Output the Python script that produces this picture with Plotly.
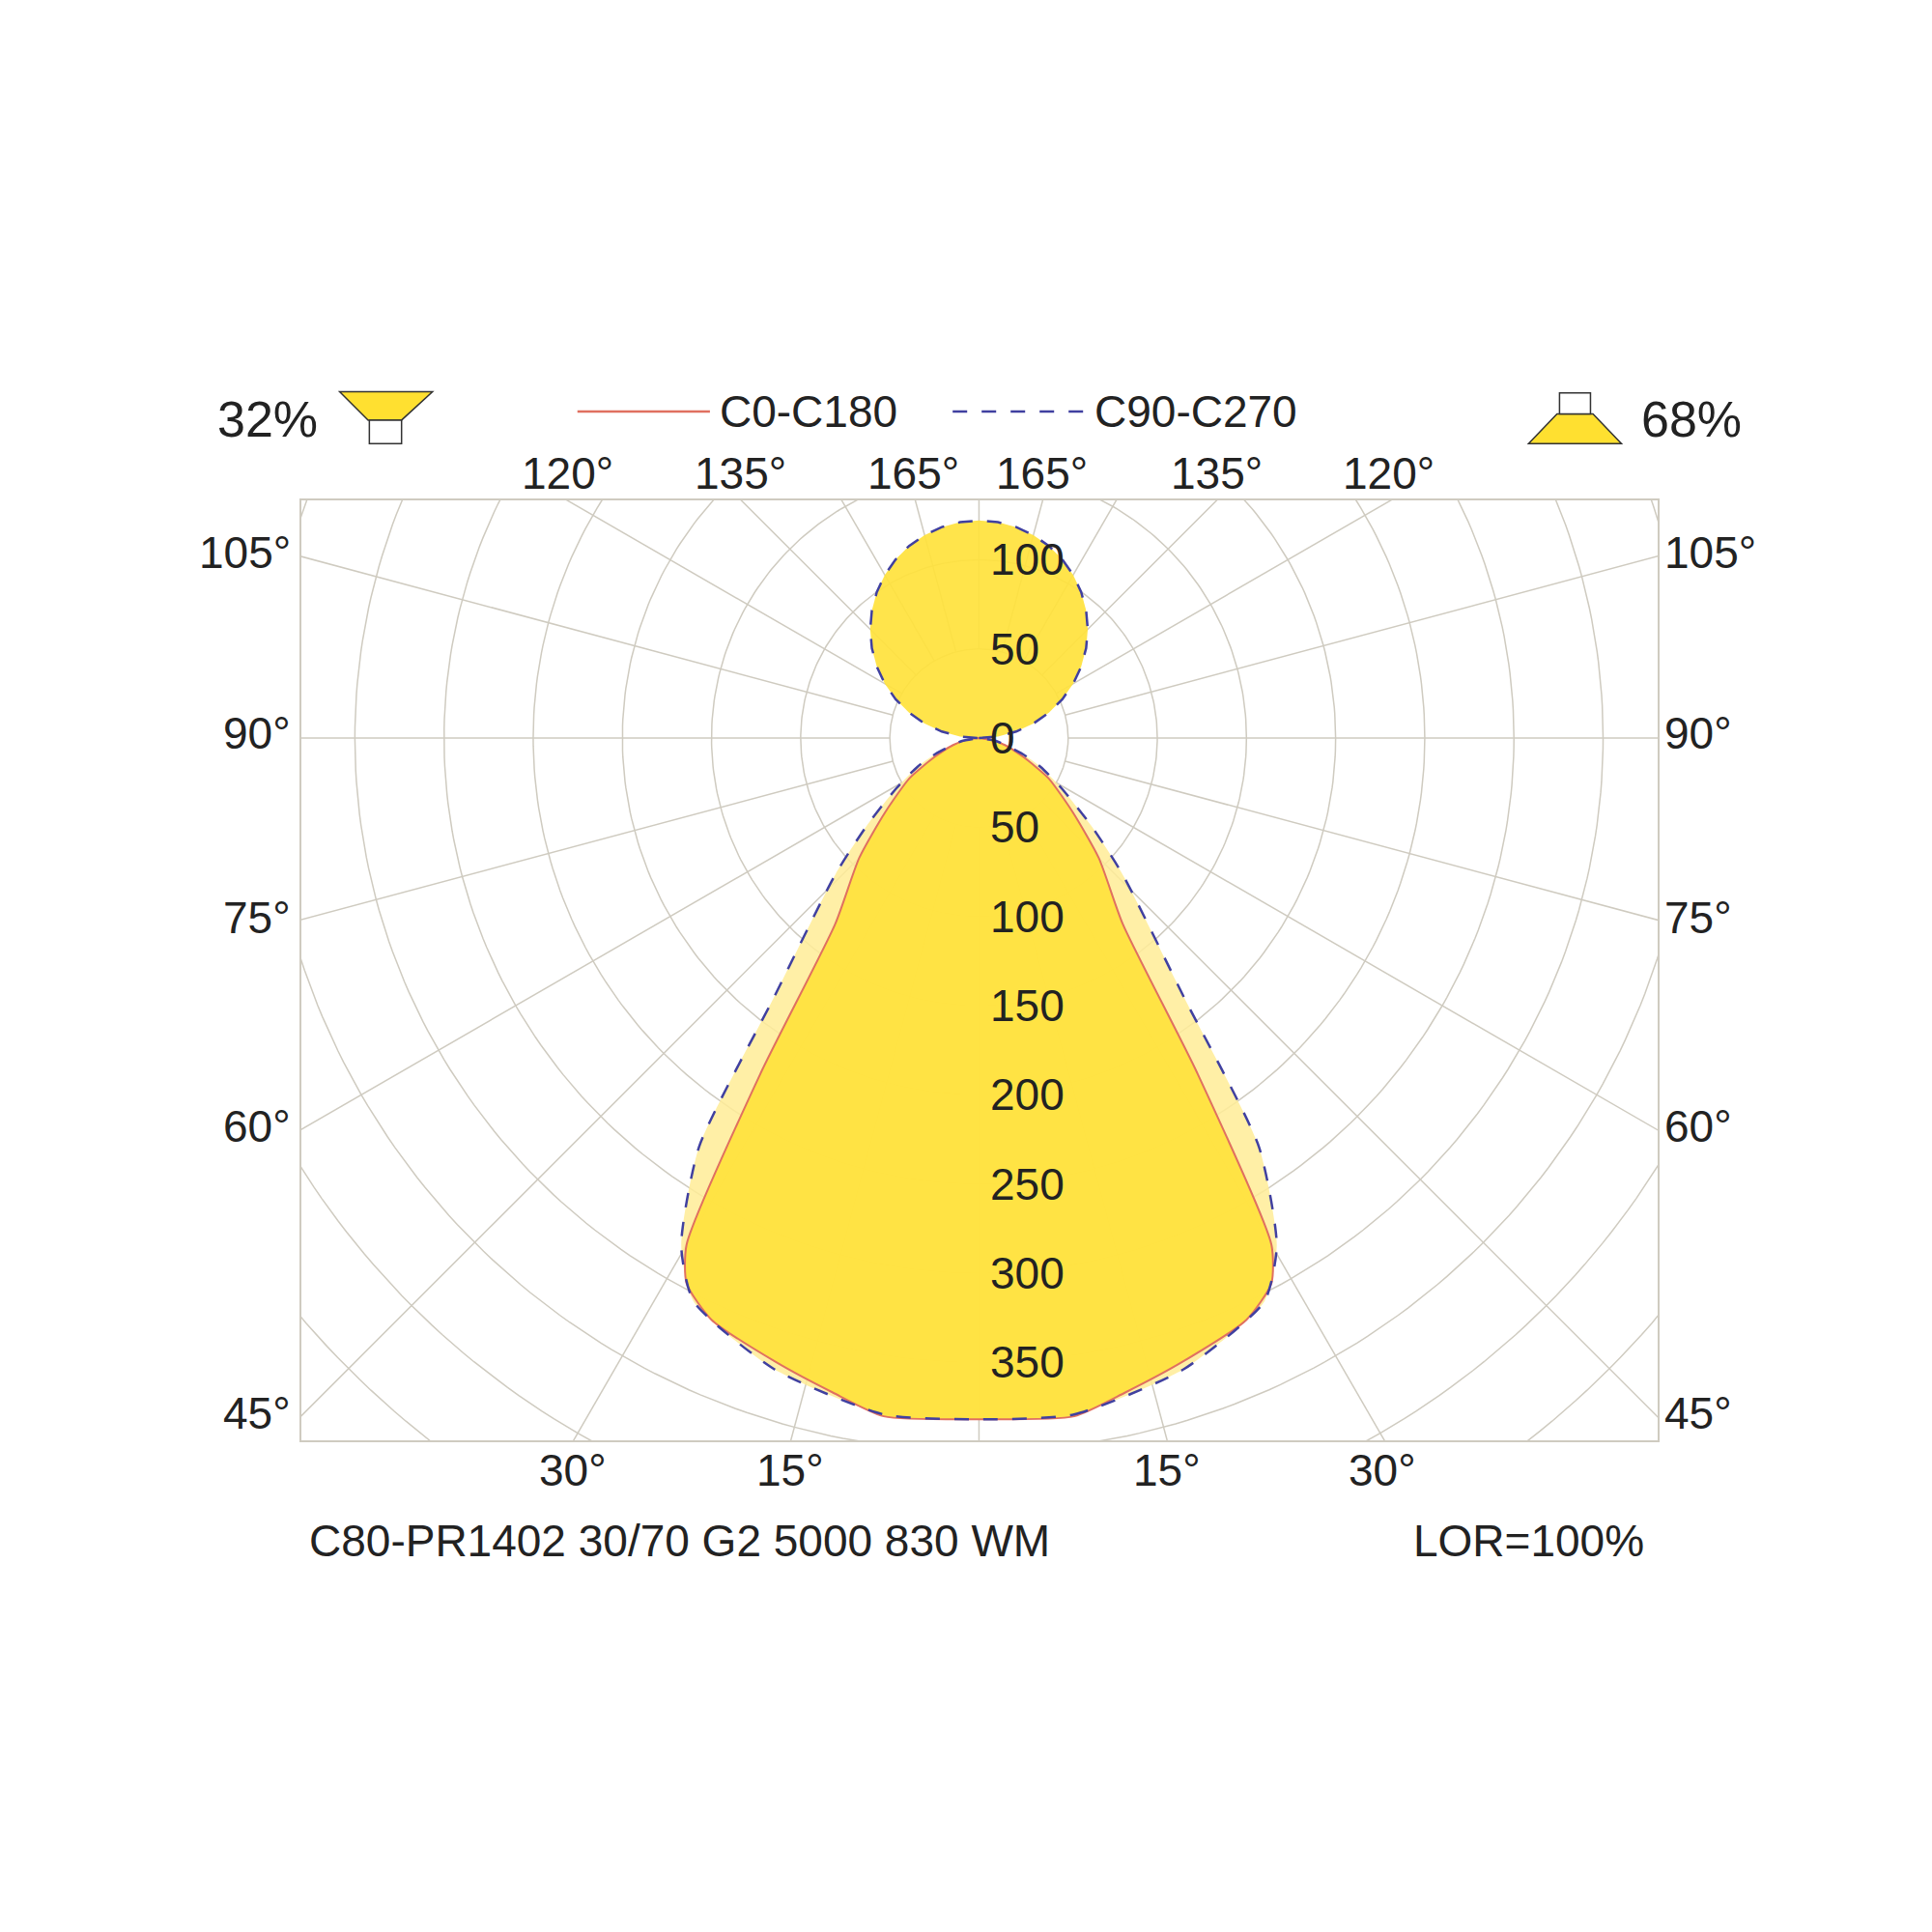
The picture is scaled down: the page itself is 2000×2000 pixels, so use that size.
import numpy as np
import plotly.graph_objects as go

# data: gamma (deg) and intensity (cd/klm)
gamma_c0 = [0, 8, 12.6, 18, 24.7, 28.2, 30, 33.1, 37.7, 45, 51.7, 60, 67, 75, 82, 90]
int_c0 = [382, 384, 376, 368, 359, 347, 328, 224, 132, 95, 67, 45, 27, 15, 7, 0]
gamma_c90 = [0, 8, 18, 26.9, 30.4, 34.4, 38.3, 46.5, 52, 58.8, 65, 70, 80, 90]
int_c90 = [382, 383, 372, 354, 330, 278, 186, 111, 80, 54, 38, 26, 10, 0]
gamma_up = list(range(90, 181, 5))
int_up = [122 * np.cos(np.radians(180 - g)) for g in gamma_up]
rings = list(range(50, 601, 50))
spokes = list(range(0, 360, 15))
ring_labels = [("0", 0), ("50", -50), ("100", -100), ("150", -150), ("200", -200),
               ("250", -250), ("300", -300), ("350", -350), ("50", 50), ("100", 100)]

S = 2000 / 1560.0
L, R, T, B = 304, 292, 510, 517
PW, PH = 2000 - L - R, 2000 - T - B
def px(x): return (x * S - L) / PW
def py(y): return 1 - (y * S - T) / PH

def xy(g, r, side=1):
    g = np.radians(np.array(g, float)); r = np.array(r, float)
    return side * r * np.sin(g), -r * np.cos(g)

def closed(g, r):
    xr, yr = xy(g, r, 1); xl, yl = xy(g, r, -1)
    return np.concatenate([xr, xl[::-1]]), np.concatenate([yr, yl[::-1]])

fig = go.Figure()
grid = "#cfcbc0"
for r in rings:
    t = np.linspace(0, 2 * np.pi, 361)
    fig.add_trace(go.Scatter(x=r * np.cos(t), y=r * np.sin(t), mode="lines",
                             line=dict(color=grid, width=1.5), hoverinfo="skip", showlegend=False))
for a in spokes:
    ar = np.radians(a)
    fig.add_trace(go.Scatter(x=[50 * np.sin(ar), 700 * np.sin(ar)], y=[-50 * np.cos(ar), -700 * np.cos(ar)],
                             mode="lines", line=dict(color=grid, width=1.5), hoverinfo="skip", showlegend=False))

bx, by = closed(gamma_c90, int_c90)
fig.add_trace(go.Scatter(x=bx, y=by, fill="toself", fillcolor="rgba(255,236,150,0.85)",
                         line=dict(width=0, shape="spline", smoothing=0.6), mode="lines", hoverinfo="skip", showlegend=False))
rx, ry = closed(gamma_c0, int_c0)
fig.add_trace(go.Scatter(x=rx, y=ry, fill="toself", fillcolor="rgba(255,226,60,0.92)",
                         line=dict(width=0, shape="spline", smoothing=0.6), mode="lines", hoverinfo="skip", showlegend=False))
ux, uy = closed(gamma_up, int_up)
fig.add_trace(go.Scatter(x=ux, y=uy, fill="toself", fillcolor="rgba(255,226,60,0.92)",
                         line=dict(width=0), mode="lines", hoverinfo="skip", showlegend=False))
fig.add_trace(go.Scatter(x=rx, y=ry, mode="lines", line=dict(color="#e07060", width=2, shape="spline", smoothing=0.6), showlegend=False))
fig.add_trace(go.Scatter(x=bx, y=by, mode="lines", line=dict(color="#4040a0", width=2.5, dash="longdash", shape="spline", smoothing=0.6), showlegend=False))
fig.add_trace(go.Scatter(x=ux, y=uy, mode="lines", line=dict(color="#4040a0", width=2.5, dash="longdash"), showlegend=False))

F = dict(family="Liberation Sans, Arial", size=46, color="#222")
ann = []
for txt, v in ring_labels:
    ann.append(dict(x=5, y=v, xref="x", yref="y", text=txt, showarrow=False, xanchor="left",
                    yanchor="middle", font=F))
def pa(t, x, y, xa="center", size=46):
    ann.append(dict(x=px(x), y=py(y), xref="paper", yref="paper", text=t, showarrow=False,
                    xanchor=xa, yanchor="middle", font=dict(F, size=size)))
for t, x in [("120°", 452), ("135°", 592), ("165°", 731), ("165°", 835), ("135°", 976), ("120°", 1115)]:
    pa(t, x, 376)
for t, y in [("105°", 440), ("90°", 586), ("75°", 735), ("60°", 903), ("45°", 1135)]:
    pa(t, 230, y, "right"); pa(t, 1336, y, "left")
for t, x in [("30°", 456), ("15°", 632), ("15°", 936), ("30°", 1110)]:
    pa(t, x, 1181)
pa("C80-PR1402 30/70 G2 5000 830 WM", 242, 1238, "left")
pa("LOR=100%", 1323, 1238, "right")
pa("32%", 168, 332, "left", 52)
pa("68%", 1402, 332, "right", 52)
pa("C0-C180", 573, 326, "left")
pa("C90-C270", 876, 326, "left")

shapes = [
    dict(type="line", xref="paper", yref="paper", x0=px(460), x1=px(567), y0=py(326), y1=py(326),
         line=dict(color="#e07060", width=2.5)),
    dict(type="line", xref="paper", yref="paper", x0=px(763), x1=px(870), y0=py(326), y1=py(326),
         line=dict(color="#4040a0", width=2.5, dash="longdash")),
    dict(type="path", xref="paper", yref="paper",
         path=f"M{px(268)},{py(310)} L{px(343)},{py(310)} L{px(318)},{py(333)} L{px(291)},{py(333)} Z",
         fillcolor="#ffe030", line=dict(color="#333", width=1.5)),
    dict(type="rect", xref="paper", yref="paper", x0=px(292), x1=px(318), y0=py(352), y1=py(333),
         fillcolor="white", line=dict(color="#333", width=1.5)),
    dict(type="path", xref="paper", yref="paper",
         path=f"M{px(1228)},{py(352)} L{px(1303)},{py(352)} L{px(1280)},{py(328)} L{px(1251)},{py(328)} Z",
         fillcolor="#ffe030", line=dict(color="#333", width=1.5)),
    dict(type="rect", xref="paper", yref="paper", x0=px(1253), x1=px(1278), y0=py(328), y1=py(311),
         fillcolor="white", line=dict(color="#333", width=1.5)),
]

ax = dict(showgrid=False, zeroline=False, showticklabels=False, ticks="", showline=True,
          mirror=True, linecolor=grid, linewidth=2)
fig.update_layout(width=2000, height=2000, plot_bgcolor="white", paper_bgcolor="white",
                  margin=dict(l=L, r=R, t=T, b=B, autoexpand=False),
                  xaxis=dict(ax, range=[-380, 380.6]), yaxis=dict(ax, range=[-393.75, 133.3]),
                  annotations=ann, shapes=shapes, showlegend=False)
fig.write_html("out.html")
